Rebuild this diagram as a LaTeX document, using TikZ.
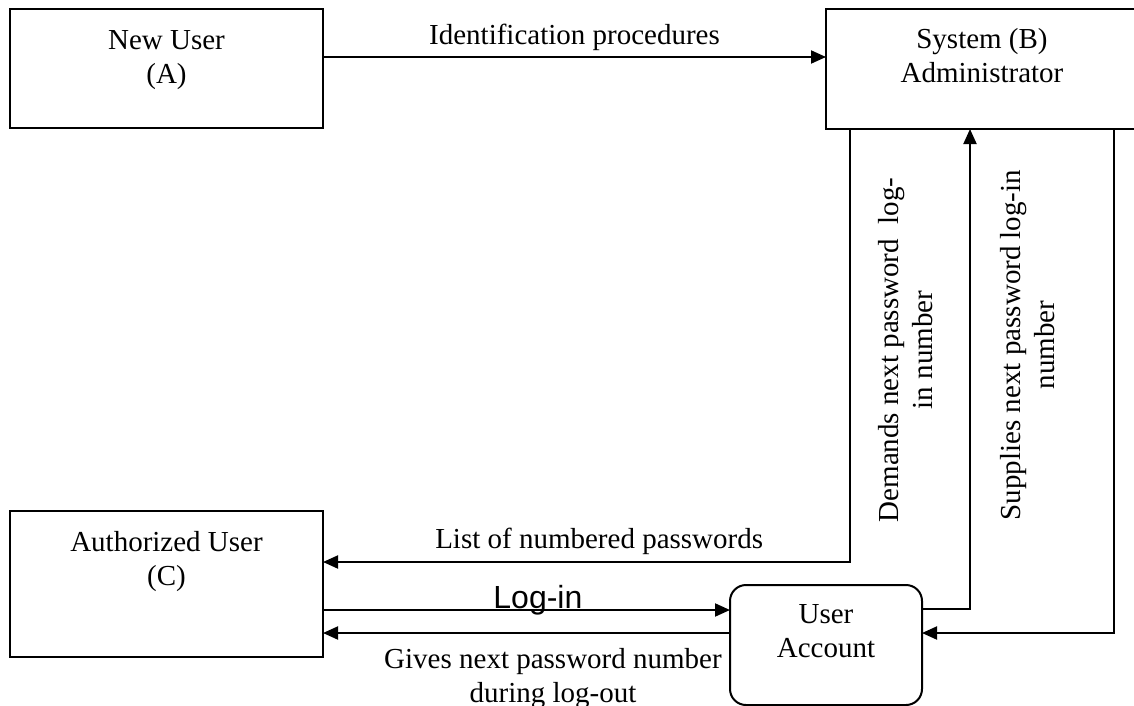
\documentclass[tikz,border=0pt]{standalone}
\usepackage{fontspec}
\setmainfont{Liberation Serif}
\newfontfamily\arialfont{Liberation Sans}
\usetikzlibrary{arrows.meta}
\begin{document}
\begin{tikzpicture}[x=0.5pt,y=-0.5pt,
  box/.style={draw, line width=1pt, inner sep=0pt, outer sep=0pt},
  lbl/.style={font=\fontsize{14.5}{17}\selectfont, align=center, inner sep=0pt},
  sanslbl/.style={font=\arialfont\fontsize{16}{19}\selectfont, inner sep=0pt},
  conn/.style={line width=1pt},
  arr/.style={line width=1pt, -{Triangle[length=7.5pt,width=6.5pt]}}]
\useasboundingbox (0,0) rectangle (1134,706);

% boxes
\node[box, minimum width=156.5pt, minimum height=59.5pt] (A) at (166.5,68.5) {};
\node[lbl] (Atxt) at (166.5,60) {New User\\(A)};
\node[box, minimum width=156pt, minimum height=60pt] (B) at (982,69) {};
\node[lbl] (Btxt) at (982,55.5) {System (B)\\Administrator};
\node[box, minimum width=156.5pt, minimum height=73pt] (C) at (166.5,584) {};
\node[lbl] (Ctxt) at (166.5,562) {Authorized User\\(C)};
\node[box, rounded corners=8pt, minimum width=96pt, minimum height=60pt] (U) at (826,645) {};
\node[lbl] (Utxt) at (826,631.5) {User\\Account};

% bend points
\coordinate (l1) at (850,562);
\coordinate (s1) at (970,609);
\coordinate (r1) at (1114,633);

% connectors
\draw[arr] (A.east |- 0,57) -- (B.west |- 0,57)
  node[lbl, midway, yshift=10pt] (idlbl) {Identification procedures};
\draw[arr] (B.south -| l1) -- (l1) -- (C.east |- l1)
  node[lbl, pos=0.476, yshift=10.5pt] (listlbl) {List of numbered passwords};
\draw[arr] (C.east |- 0,610) -- (U.west |- 0,610)
  node[sanslbl, anchor=base, pos=0.528, yshift=1pt] (loginlbl) {Log-in};
\draw[arr] (U.west |- 0,633) -- (C.east |- 0,633)
  node[lbl, pos=0.435, yshift=-22.75pt] (giveslbl) {Gives next password number\\during log-out};
\draw[arr] (U.east |- s1) -- (s1) -- (B.south -| s1);
\draw[arr] (B.south -| r1) -- (r1) -- (U.east |- r1);

% rotated labels
\node[lbl, rotate=90] (demlbl) at (906,350) {Demands next password\ \ log-\\in number};
\node[lbl, rotate=90] (suplbl) at (1028,345) {Supplies next password log-in\\number};
\end{tikzpicture}
\end{document}
